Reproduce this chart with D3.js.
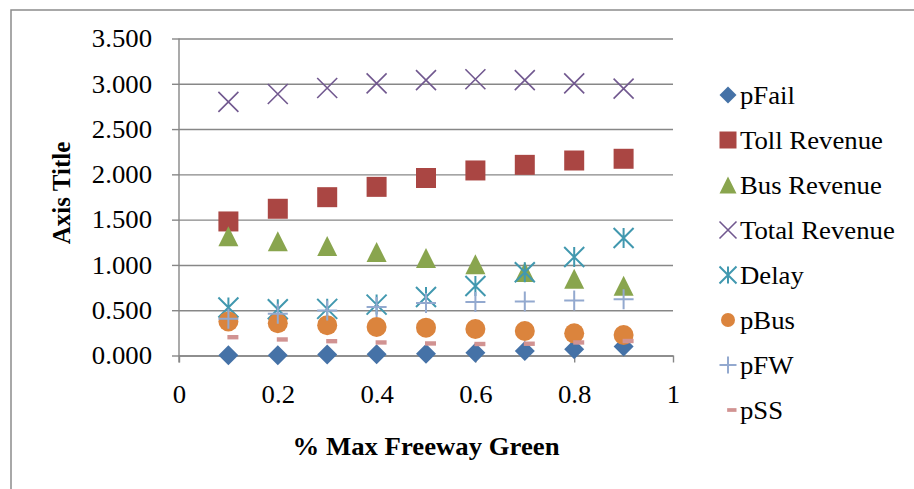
<!DOCTYPE html>
<html>
<head>
<meta charset="utf-8">
<script src="https://cdn.jsdelivr.net/npm/d3@7"></script>
<style>
  html, body { margin: 0; padding: 0; background: #fff; }
  svg { display: block; }
  text { font-family: "Liberation Serif", "Times New Roman", serif; fill: #000; }
</style>
</head>
<body>
<svg id="chart" width="914" height="489"></svg>
<script>
// x positions (share of maximum freeway green time)
const xValues = [0.1, 0.2, 0.3, 0.4, 0.5, 0.6, 0.7, 0.8, 0.9];

// series values
const pFail        = [0.003, 0.003, 0.010, 0.013, 0.020, 0.030, 0.050, 0.070, 0.100];
const tollRevenue  = [1.480, 1.620, 1.748, 1.862, 1.960, 2.043, 2.105, 2.153, 2.172];
const busRevenue   = [1.318, 1.261, 1.208, 1.143, 1.077, 1.007, 0.922, 0.848, 0.769];
const totalRevenue = [2.800, 2.887, 2.953, 3.005, 3.040, 3.050, 3.040, 3.005, 2.946];
const delay        = [0.530, 0.510, 0.515, 0.562, 0.645, 0.767, 0.920, 1.087, 1.297];
const pBus         = [0.376, 0.357, 0.335, 0.315, 0.307, 0.293, 0.270, 0.245, 0.226];
const pFW          = [0.405, 0.460, 0.498, 0.535, 0.580, 0.590, 0.597, 0.608, 0.620];
const pSS          = [0.202, 0.177, 0.158, 0.144, 0.133, 0.127, 0.130, 0.144, 0.160];

// axis ticks and titles
const yTicks = [0, 0.5, 1, 1.5, 2, 2.5, 3, 3.5];
const xTicks = [0, 0.2, 0.4, 0.6, 0.8, 1];
const xTickLabels = ["0", "0.2", "0.4", "0.6", "0.8", "1"];
const xTitle = "% Max Freeway Green";
const yTitle = "Axis Title";

const series = [
  { name: "pFail",         values: pFail,        marker: "diamond",  color: "#4572A7" },
  { name: "Toll Revenue",  values: tollRevenue,  marker: "square",   color: "#AA4643" },
  { name: "Bus Revenue",   values: busRevenue,   marker: "triangle", color: "#89A54E" },
  { name: "Total Revenue", values: totalRevenue, marker: "x",        color: "#71588F" },
  { name: "Delay",         values: delay,        marker: "star",     color: "#4198AF" },
  { name: "pBus",          values: pBus,         marker: "circle",   color: "#DB843D" },
  { name: "pFW",           values: pFW,          marker: "plus",     color: "#93A9CF" },
  { name: "pSS",           values: pSS,          marker: "dash",     color: "#D19392" }
];

const svg = d3.select("#chart");
const gridColor = "#878787";
const FS = 25;      // text size
const SX = 1.07;    // slight horizontal widening of the serif glyphs

// chart frame (left and top edges show inside the window)
svg.append("rect")
  .attr("x", 11).attr("y", 10)
  .attr("width", 920).attr("height", 500)
  .attr("fill", "none").attr("stroke", "#8c8c8c").attr("stroke-width", 1.5);

const x = d3.scaleLinear().domain([0, 1]).range([179, 673]);
const y = d3.scaleLinear().domain([0, 3.5]).range([355.5, 38.5]);

// horizontal gridlines + y axis
const yAxis = d3.axisLeft(y)
  .tickValues(yTicks)
  .tickFormat(d3.format(".3f"))
  .tickSizeInner(-(x(1) - x(0)))
  .tickSizeOuter(0)
  .tickPadding(0);

const gy = svg.append("g").attr("transform", `translate(${x(0)},0)`).call(yAxis);
gy.select(".domain").remove();
gy.selectAll(".tick line").attr("stroke", gridColor).attr("stroke-width", 1.4);
gy.selectAll(".tick").append("line")
  .attr("x1", -7).attr("x2", 0)
  .attr("stroke", gridColor).attr("stroke-width", 1.4);
gy.selectAll(".tick text")
  .attr("x", -27 / SX).attr("dy", "0.33em")
  .attr("transform", `scale(${SX},1)`)
  .attr("font-size", FS)
  .attr("font-family", "Liberation Serif")
  .attr("text-anchor", "end");

// vertical axis line
svg.append("line")
  .attr("x1", x(0)).attr("x2", x(0))
  .attr("y1", y(3.5)).attr("y2", y(0) + 7)
  .attr("stroke", gridColor).attr("stroke-width", 1.4);

// x axis
const xAxis = d3.axisBottom(x)
  .tickValues(xTicks)
  .tickFormat((d, i) => xTickLabels[i])
  .tickSizeInner(7)
  .tickSizeOuter(0);

const gx = svg.append("g").attr("transform", `translate(0,${y(0)})`).call(xAxis);
gx.select(".domain").attr("stroke", gridColor).attr("stroke-width", 1.4);
gx.selectAll(".tick line").attr("stroke", gridColor).attr("stroke-width", 1.4);
gx.selectAll(".tick text")
  .attr("y", 48).attr("dy", 0)
  .attr("transform", `scale(${SX},1)`)
  .attr("font-size", FS)
  .attr("font-family", "Liberation Serif");

// marker shapes (the dash glyph sits a little right of its anchor)
function markerPath(kind, s) {
  const h = s / 2;
  switch (kind) {
    case "diamond":  return `M0,${-h}L${h},0L0,${h}L${-h},0Z`;
    case "square":   return `M${-h},${-h}H${h}V${h}H${-h}Z`;
    case "triangle": return `M0,${-h}L${h},${h}L${-h},${h}Z`;
    case "circle":   return `M${h},0A${h},${h} 0 1,1 ${-h},0A${h},${h} 0 1,1 ${h},0Z`;
    case "x":        return `M${-h},${-h}L${h},${h}M${-h},${h}L${h},${-h}`;
    case "star":     return `M${-h},${-h}L${h},${h}M${-h},${h}L${h},${-h}M0,${-h}V${h}`;
    case "plus":     return `M${-h},0H${h}M0,${-h}V${h}`;
    case "dash": {
      const l = -0.05 * s, r = 0.5 * s, t = 0.11 * s;
      return `M${l},${-t}H${r}V${t}H${l}Z`;
    }
  }
}
const filled = new Set(["diamond", "square", "triangle", "circle", "dash"]);
const strokeW = { x: 1.6, star: 2, plus: 2 };

function drawMarker(g, kind, color, s) {
  const p = g.append("path").attr("d", markerPath(kind, s));
  if (filled.has(kind)) {
    p.attr("fill", color).attr("stroke", "none");
  } else {
    p.attr("fill", "none").attr("stroke", color).attr("stroke-width", strokeW[kind]);
  }
  return p;
}

// data markers
const plot = svg.append("g");
series.forEach(sr => {
  const g = plot.append("g").attr("class", "series");
  sr.values.forEach((v, i) => {
    const m = g.append("g").attr("transform", `translate(${x(xValues[i])},${y(v)})`);
    drawMarker(m, sr.marker, sr.color, 20);
  });
});

// legend
const legend = svg.append("g");
series.forEach((sr, i) => {
  const cy = 95 + i * 45;
  const m = legend.append("g").attr("transform", `translate(728,${cy})`);
  drawMarker(m, sr.marker, sr.color, sr.marker === "circle" ? 14 : 17);
  legend.append("g")
    .attr("transform", `translate(740,${cy}) scale(${SX},1)`)
    .append("text")
    .attr("dy", "0.34em")
    .attr("font-size", FS)
    .text(sr.name);
});

// axis titles
svg.append("g")
  .attr("transform", `translate(426,455) scale(${SX},1)`)
  .append("text")
  .attr("text-anchor", "middle")
  .attr("font-size", FS).attr("font-weight", "bold")
  .text(xTitle);

svg.append("text")
  .attr("transform", "translate(70,193) rotate(-90)")
  .attr("text-anchor", "middle")
  .attr("font-size", FS).attr("font-weight", "bold")
  .text(yTitle);
</script>
</body>
</html>
